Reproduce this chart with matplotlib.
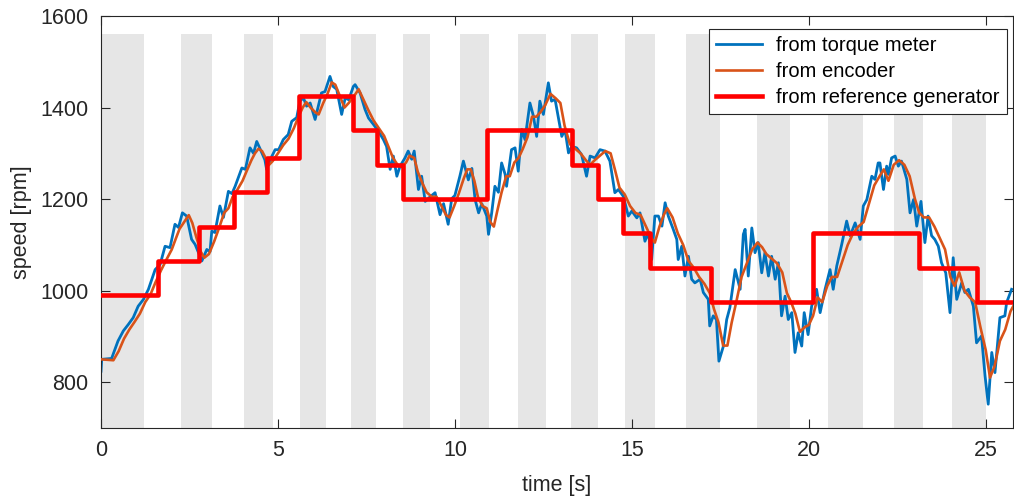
import numpy as np
import matplotlib
matplotlib.use("Agg")
import matplotlib.pyplot as plt

plt.rcParams["font.family"] = ["Liberation Sans", "DejaVu Sans"]

# speed from torque meter (time [s], speed [rpm])
t_torque = [0.00, 0.02, 0.30, 0.48, 0.63, 0.77, 0.91, 1.05, 1.20, 1.34, 1.53, 1.67, 1.81, 1.95,
            2.09, 2.19, 2.30, 2.42, 2.56, 2.66, 2.85, 2.99, 3.08, 3.13, 3.22, 3.36, 3.46, 3.60,
            3.70, 3.79, 3.98, 4.08, 4.21, 4.31, 4.40, 4.50, 4.63, 4.68, 4.78, 4.92, 5.02, 5.15,
            5.29, 5.39, 5.53, 5.62, 5.72, 5.81, 5.91, 6.05, 6.14, 6.23, 6.33, 6.47, 6.56, 6.66,
            6.80, 6.90, 7.00, 7.13, 7.18, 7.32, 7.46, 7.56, 7.70, 7.84, 7.98, 8.07, 8.17, 8.26,
            8.36, 8.45, 8.59, 8.68, 8.78, 8.85, 8.97, 9.06, 9.16, 9.30, 9.44, 9.58, 9.68, 9.81,
            9.91, 10.00, 10.14, 10.24, 10.38, 10.48, 10.57, 10.67, 10.76, 10.90, 10.95, 11.04,
            11.13, 11.23, 11.32, 11.42, 11.46, 11.60, 11.70, 11.79, 11.89, 11.98, 12.12, 12.22,
            12.31, 12.40, 12.50, 12.64, 12.73, 12.83, 13.02, 13.11, 13.21, 13.30, 13.44, 13.58,
            13.72, 13.82, 13.96, 14.10, 14.24, 14.38, 14.52, 14.62, 14.76, 14.90, 15.00, 15.14,
            15.23, 15.37, 15.47, 15.56, 15.65, 15.75, 15.85, 15.94, 16.03, 16.17, 16.27, 16.31,
            16.41, 16.50, 16.60, 16.69, 16.78, 16.93, 17.02, 17.16, 17.20, 17.30, 17.39, 17.46,
            17.58, 17.68, 17.77, 17.92, 18.06, 18.15, 18.20, 18.29, 18.39, 18.48, 18.57, 18.67,
            18.76, 18.86, 18.95, 19.05, 19.14, 19.23, 19.33, 19.42, 19.52, 19.61, 19.70, 19.80,
            19.87, 19.98, 20.08, 20.22, 20.32, 20.46, 20.60, 20.69, 20.79, 20.93, 21.07, 21.17,
            21.31, 21.45, 21.54, 21.64, 21.78, 21.87, 21.96, 22.01, 22.11, 22.20, 22.25, 22.34,
            22.44, 22.53, 22.62, 22.77, 22.86, 22.96, 23.05, 23.17, 23.28, 23.37, 23.47, 23.56,
            23.66, 23.75, 23.87, 23.99, 24.08, 24.18, 24.32, 24.41, 24.51, 24.65, 24.74, 24.88,
            24.98, 25.07, 25.17, 25.26, 25.40, 25.54, 25.59, 25.73]
v_torque = [824, 850, 852, 890, 912, 926, 941, 966, 981, 1003, 1046, 1057, 1097, 1094,
            1145, 1138, 1170, 1163, 1112, 1101, 1065, 1090, 1085, 1130, 1127, 1185, 1160, 1217,
            1212, 1228, 1268, 1265, 1312, 1300, 1326, 1309, 1286, 1265, 1286, 1308, 1308, 1330,
            1341, 1370, 1378, 1414, 1421, 1403, 1410, 1374, 1403, 1432, 1435, 1468, 1446, 1440,
            1385, 1421, 1417, 1446, 1450, 1432, 1396, 1377, 1363, 1348, 1330, 1315, 1265, 1294,
            1250, 1272, 1290, 1305, 1287, 1305, 1221, 1250, 1195, 1205, 1214, 1166, 1190, 1145,
            1201, 1208, 1250, 1283, 1242, 1267, 1199, 1170, 1190, 1163, 1123, 1170,
            1228, 1215, 1279, 1254, 1228, 1308, 1312, 1261, 1352, 1330, 1410, 1381,
            1337, 1414, 1385, 1454, 1414, 1418, 1337, 1352, 1301, 1315, 1312, 1297,
            1250, 1294, 1290, 1308, 1305, 1283, 1214, 1221, 1206, 1163, 1174, 1159,
            1170, 1108, 1127, 1068, 1163, 1163, 1141, 1192, 1163, 1134, 1112, 1068,
            1097, 1032, 1075, 1025, 1017, 1025, 996, 981, 923, 945, 937, 846,
            877, 937, 963, 1046, 1003, 1123, 1134, 1032, 1137, 1083, 1105, 1039,
            1083, 1032, 1075, 1025, 1061, 945, 988, 937, 952, 865, 908, 879,
            952, 904, 966, 1003, 952, 1003, 1046, 1003, 1054, 1101, 1152, 1120,
            1148, 1112, 1185, 1199, 1250, 1243, 1279, 1279, 1221, 1272, 1254, 1290,
            1294, 1272, 1283, 1243, 1170, 1199, 1141, 1195, 1105, 1163, 1120, 1112,
            1097, 1061, 1039, 952, 1072, 981, 1017, 996, 1003, 966, 886, 901,
            814, 752, 865, 821, 941, 945, 974, 1003]

# speed from encoder
t_enc = [0.00, 0.35, 0.50, 0.65, 0.80, 0.95, 1.10, 1.25, 1.40, 1.55, 1.70, 1.85, 2.00, 2.12,
         2.22, 2.35, 2.48, 2.58, 2.70, 2.82, 2.92, 3.05, 3.20, 3.35, 3.48, 3.60, 3.72, 3.85,
         4.00, 4.12, 4.25, 4.35, 4.45, 4.55, 4.65, 4.75, 4.85, 5.00, 5.15, 5.30, 5.45, 5.58,
         5.70, 5.80, 5.92, 6.05, 6.15, 6.28, 6.40, 6.52, 6.62, 6.75, 6.88, 7.00, 7.15, 7.28,
         7.40, 7.55, 7.70, 7.85, 8.00, 8.12, 8.25, 8.38, 8.50, 8.62, 8.72, 8.85, 8.95, 9.08,
         9.20, 9.35, 9.48, 9.62, 9.75, 9.85, 9.98, 10.10, 10.25, 10.35, 10.45, 10.55, 10.65,
         10.78, 10.90, 11.00, 11.10, 11.20, 11.32, 11.45, 11.55, 11.68, 11.80, 11.92, 12.05,
         12.18, 12.30, 12.42, 12.55, 12.70, 12.85, 12.98, 13.10, 13.25, 13.40, 13.55, 13.70,
         13.82, 13.95, 14.10, 14.25, 14.40, 14.52, 14.65, 14.80, 14.95, 15.10, 15.25, 15.40,
         15.55, 15.65, 15.78, 15.90, 16.00, 16.15, 16.30, 16.45, 16.60, 16.75, 16.90, 17.05,
         17.20, 17.32, 17.45, 17.58, 17.70, 17.82, 17.95, 18.10, 18.25, 18.40, 18.55, 18.68,
         18.80, 18.95, 19.10, 19.25, 19.38, 19.50, 19.62, 19.75, 19.88, 20.00, 20.12, 20.25,
         20.38, 20.52, 20.65, 20.80, 20.95, 21.10, 21.25, 21.40, 21.55, 21.70, 21.85, 22.00,
         22.12, 22.25, 22.40, 22.55, 22.70, 22.85, 23.00, 23.12, 23.25, 23.40, 23.55, 23.70,
         23.85, 24.00, 24.12, 24.25, 24.40, 24.55, 24.70, 24.85, 25.00, 25.12, 25.25, 25.40,
         25.55, 25.70, 25.77]
v_enc = [850, 848, 868, 895, 915, 932, 950, 975, 992, 1020, 1045, 1068, 1090, 1115,
         1135, 1150, 1165, 1148, 1115, 1085, 1072, 1080, 1108, 1140, 1170, 1180, 1205, 1220,
         1240, 1262, 1285, 1300, 1310, 1305, 1290, 1275, 1283, 1300, 1318, 1332, 1355, 1380,
         1400, 1412, 1400, 1390, 1385, 1410, 1430, 1455, 1450, 1425, 1400, 1410, 1425, 1440,
         1420, 1395, 1372, 1355, 1338, 1315, 1290, 1275, 1270, 1280, 1295, 1290, 1260, 1235,
         1215, 1205, 1205, 1185, 1165, 1160, 1185, 1210, 1245, 1265, 1265, 1240, 1205,
         1185, 1180, 1150, 1140, 1175, 1215, 1250, 1250, 1280, 1290, 1310, 1335,
         1380, 1380, 1390, 1405, 1430, 1420, 1410, 1360, 1320, 1310, 1300, 1285,
         1275, 1285, 1295, 1305, 1300, 1265, 1225, 1210, 1185, 1170, 1165, 1140,
         1115, 1105, 1140, 1165, 1180, 1160, 1125, 1100, 1065, 1050, 1030, 1015,
         995, 960, 930, 880, 880, 930, 975, 1030, 1060, 1090, 1105, 1095,
         1080, 1070, 1060, 1040, 995, 975, 950, 910, 920, 925, 945, 985,
         975, 1010, 1030, 1030, 1065, 1100, 1125, 1140, 1150, 1190, 1230, 1250,
         1265, 1240, 1275, 1285, 1275, 1250, 1200, 1170, 1160, 1160, 1140, 1115,
         1090, 1030, 1010, 1040, 1000, 985, 975, 920, 870, 810, 835, 890,
         915, 955, 965]

# reference generator steps
ref_edges = [0, 1.62, 2.78, 3.77, 4.68, 5.60, 7.11, 7.81, 8.53, 10.90, 13.31, 14.03,
             14.75, 15.52, 17.24, 20.13, 23.12, 24.75, 25.8]
ref_levels = [990, 1065, 1140, 1215, 1290, 1425, 1350, 1275, 1200, 1350, 1275, 1200,
              1125, 1050, 975, 1125, 1050, 975]

# shaded intervals
band_start = [0, 2.26, 4.04, 5.63, 7.07, 8.52, 10.13, 11.79, 13.29, 14.81, 16.53,
              18.55, 20.55, 22.40, 24.05]
band_end = [1.22, 3.15, 4.85, 6.36, 7.77, 9.30, 10.95, 12.57, 14.03, 15.65, 17.48,
            19.47, 21.53, 23.22, 25.01]
band_top = 1560

fig = plt.figure(figsize=(10.14, 4.99), dpi=100)
ax = fig.add_axes([101 / 1014, 71 / 499, 912 / 1014, 412 / 499])

for a, b in zip(band_start, band_end):
    ax.fill_between([a, b], 700, band_top, color="#e6e6e6", lw=0, zorder=0)

ax.plot(t_torque, v_torque, color="#0072BD", lw=2.0, label="from torque meter", zorder=2)
ax.plot(t_enc, v_enc, color="#D95319", lw=1.9, label="from encoder", zorder=3)
ref_y = ref_levels + [ref_levels[-1]]
ax.step(ref_edges, ref_y, where="post", color="#FF0000", lw=3.3,
        label="from reference generator", zorder=4)

ax.set_xlim(0, 25.77)
ax.set_ylim(700, 1600)
ax.set_xticks([0, 5, 10, 15, 20, 25])
ax.set_yticks([800, 1000, 1200, 1400, 1600])

ax.tick_params(direction="in", length=6.5, width=0.8, top=True, right=True,
               labelsize=15.5, colors="#262626", pad=9)
for s in ax.spines.values():
    s.set_color("#262626")
    s.set_linewidth(0.8)

ax.set_xlabel("time [s]", fontsize=15.5, color="#262626", labelpad=10)
ax.set_ylabel("speed [rpm]", fontsize=15.5, color="#262626", labelpad=6)

leg = ax.legend(loc="upper right", bbox_to_anchor=(0.9934, 0.968), borderaxespad=0,
                fontsize=14.5, handlelength=2.3, fancybox=False, framealpha=1,
                edgecolor="#262626", borderpad=0.35, labelspacing=0.35, handletextpad=0.7)
leg.get_frame().set_linewidth(0.8)

fig.savefig("out.png", dpi=100)
